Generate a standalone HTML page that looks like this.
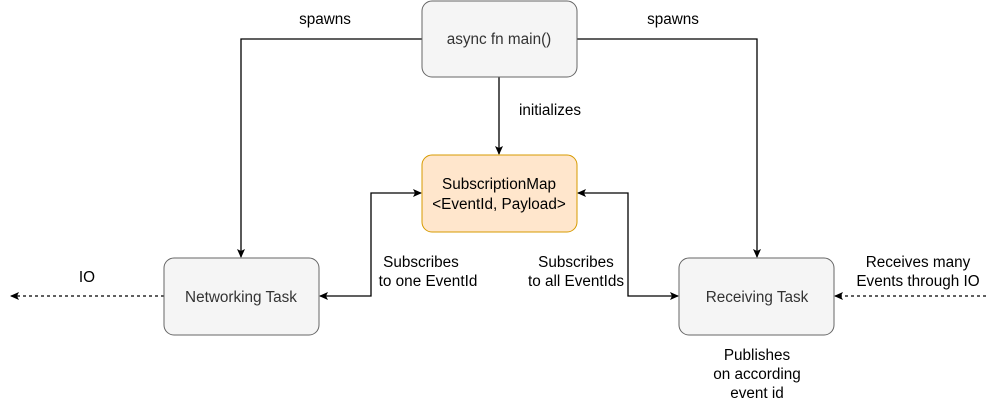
<!DOCTYPE html>
<html><head><meta charset="utf-8"><style>
html,body{margin:0;padding:0;background:#fff;}
svg{display:block;font-family:"Liberation Sans",Arial,sans-serif;}
</style></head><body>
<svg width="1001" height="415" viewBox="0 0 1001 415" xmlns="http://www.w3.org/2000/svg">
<defs>
<marker id="a" markerWidth="10" markerHeight="10" refX="8" refY="5" orient="auto-start-reverse" markerUnits="userSpaceOnUse">
<path d="M0,1 L9,5 L0,9 L2,5 Z" fill="#000"/>
</marker>
</defs>
<g fill="none" stroke="#000" stroke-width="1.3">
<path d="M422,39 H241 V257" marker-end="url(#a)"/>
<path d="M577,39 H757 V257" marker-end="url(#a)"/>
<path d="M499,77 V154" marker-end="url(#a)"/>
<path d="M320,296 H371 V193 H421" marker-start="url(#a)" marker-end="url(#a)"/>
<path d="M678,296 H628 V193 H578" marker-start="url(#a)" marker-end="url(#a)"/>
<path d="M164,296 H11" stroke-dasharray="3,3" marker-end="url(#a)"/>
<path d="M986,296 H835" stroke-dasharray="3,3" marker-end="url(#a)"/>
</g>
<rect x="422" y="1" width="155" height="76" rx="10" fill="#f5f5f5" stroke="#666"/>
<rect x="422" y="155" width="155" height="77" rx="10" fill="#ffe6cc" stroke="#d79b00"/>
<rect x="164" y="258" width="155" height="77" rx="10" fill="#f5f5f5" stroke="#666"/>
<rect x="679" y="258" width="155" height="77" rx="10" fill="#f5f5f5" stroke="#666"/>
<g font-size="15.3" text-anchor="middle" fill="#333">
<text x="499" y="44">async fn main()</text>
<text x="241" y="302">Networking Task</text>
<text x="757" y="302">Receiving Task</text>
</g>
<g font-size="15.3" text-anchor="middle" fill="#000">
<text x="499" y="189">SubscriptionMap</text>
<text x="499" y="209">&lt;EventId, Payload&gt;</text>
<text x="325" y="24">spawns</text>
<text x="673" y="24">spawns</text>
<text x="550" y="115">initializes</text>
<text x="421" y="267">Subscribes</text>
<text x="428" y="286">to one EventId</text>
<text x="576" y="267">Subscribes</text>
<text x="576" y="286">to all EventIds</text>
<text x="87" y="282">IO</text>
<text x="918" y="267">Receives many</text>
<text x="918" y="286">Events through IO</text>
<text x="757" y="360">Publishes</text>
<text x="757" y="379">on according</text>
<text x="757" y="398">event id</text>
</g>
</svg>
</body></html>
